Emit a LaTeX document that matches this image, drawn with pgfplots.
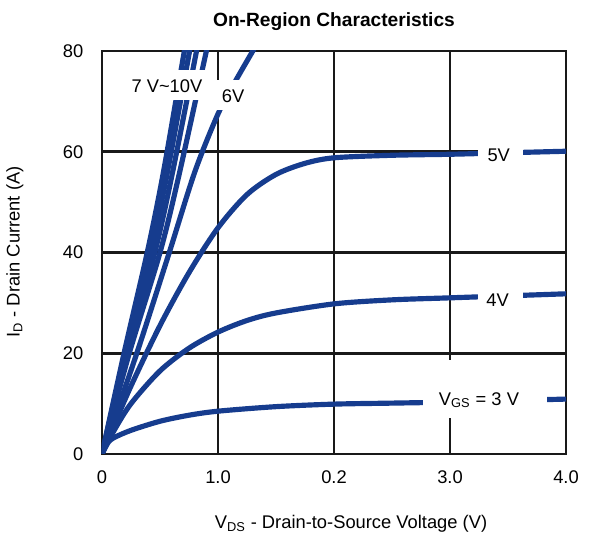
\documentclass[border=0pt]{standalone}
\usepackage{fontspec}
\setmainfont{Liberation Sans}
\usepackage{pgfplots}
\pgfplotsset{compat=1.18}
\definecolor{curve}{RGB}{22,60,142}
\definecolor{gridc}{RGB}{25,25,25}

\begin{document}
\fontsize{11}{13}\selectfont
\begin{tikzpicture}
\begin{axis}[
  scale only axis, width=278.4pt, height=241.8pt,
  xmin=0, xmax=4, ymin=0, ymax=80,
  xtick={0,1,2,3,4}, xticklabels={0,1.0,0.2,3.0,4.0},
  ytick={0,20,40,60,80},
  grid=major, major grid style={line width=1.7pt, color=gridc},
  axis line style={line width=1.7pt, color=gridc},
  major tick length=0pt,
  tick label style={font=\fontsize{11}{13}\selectfont},
  /pgf/number format/assume math mode=true,
  xticklabel style={anchor=center, inner sep=0pt, yshift=-14pt},
  yticklabel style={anchor=east, inner sep=0pt, xshift=-11pt},
  crv/.style={line width=3.1pt, color=curve, solid, smooth, tension=0.5, mark=none, line cap=butt, line join=round},
]
\coordinate (O) at (rel axis cs:0,0);
% 3 V
\addplot[crv] coordinates {(0,0) (0.05,2.2) (0.1,3.2) (0.25,4.7) (0.5,6.5) (0.75,7.7) (1,8.5) (1.5,9.4) (2,9.9) (2.5,10.1) (3,10.3) (3.5,10.6) (4,10.9)};
% 4 V
\addplot[crv] coordinates {(0,0) (0.1,4.5) (0.25,10) (0.5,16.5) (0.75,21) (1,24.2) (1.25,26.5) (1.5,28) (2,29.8) (2.5,30.6) (3,31) (3.5,31.4) (4,31.8)};
% 5 V
\addplot[crv] coordinates {(0,0) (0.1,5.5) (0.25,13.5) (0.5,25.5) (0.75,36) (1,44.9) (1.25,51.5) (1.5,55.5) (1.75,57.7) (2,58.8) (2.5,59.3) (3,59.5) (3.5,59.8) (4,60.1)};
% 6 V
\addplot[crv] coordinates {(0,0) (0.3,20) (0.58,40) (0.8,56) (1.0,67.5) (1.15,74) (1.3,80) (1.35,82)};
% 7 V
\addplot[crv] coordinates {(0,0) (0.235,20) (0.5,40) (0.66,55) (0.9,80) (0.94,84)};
% 8 V
\addplot[crv] coordinates {(0,0) (0.215,20) (0.455,40) (0.6,55) (0.815,80) (0.85,84)};
% 9 V
\addplot[crv] coordinates {(0,0) (0.2,20) (0.42,40) (0.56,55.5) (0.755,80) (0.785,84)};
% 10 V
\addplot[crv] coordinates {(0,0) (0.19,20) (0.39,40) (0.53,56) (0.71,80) (0.74,84)};

% label backgrounds
\fill[white] (axis cs:0.22,70.3) rectangle (axis cs:0.93,76.2);
\fill[white] (axis cs:0.974,68.3) rectangle (axis cs:1.276,74.2);
\fill[white] (axis cs:3.24,56.5) rectangle (axis cs:3.63,63);
\fill[white] (axis cs:3.24,28) rectangle (axis cs:3.63,35);
\fill[white] (axis cs:2.77,7.1) rectangle (axis cs:3.84,18.7);

\node[inner sep=0pt] at (axis cs:0.56,73.1) {7 V\textasciitilde10V};
\node[inner sep=0pt] at (axis cs:1.13,71) {6V};
\node[inner sep=0pt] at (axis cs:3.42,59.3) {5V};
\node[inner sep=0pt] at (axis cs:3.41,30.5) {4V};
\node[inner sep=0pt] at (axis cs:3.25,10.7) {V\textsubscript{GS} = 3 V};
\end{axis}
\node[font=\fontsize{11.5}{13}\selectfont\bfseries] at ([shift={(139.2pt,259.4pt)}]O) {On-Region Characteristics};
\node at ([shift={(149.4pt,-42pt)}]O) {V\textsubscript{DS} - Drain-to-Source Voltage (V)};
\node[rotate=90] at ([shift={(-52.2pt,121.2pt)}]O) {I\textsubscript{D} - Drain Current (A)};
\pgfresetboundingbox
\path (O) ++(-61.2pt,-48.6pt) rectangle ++(355.8pt,321pt);
\end{tikzpicture}
\end{document}
